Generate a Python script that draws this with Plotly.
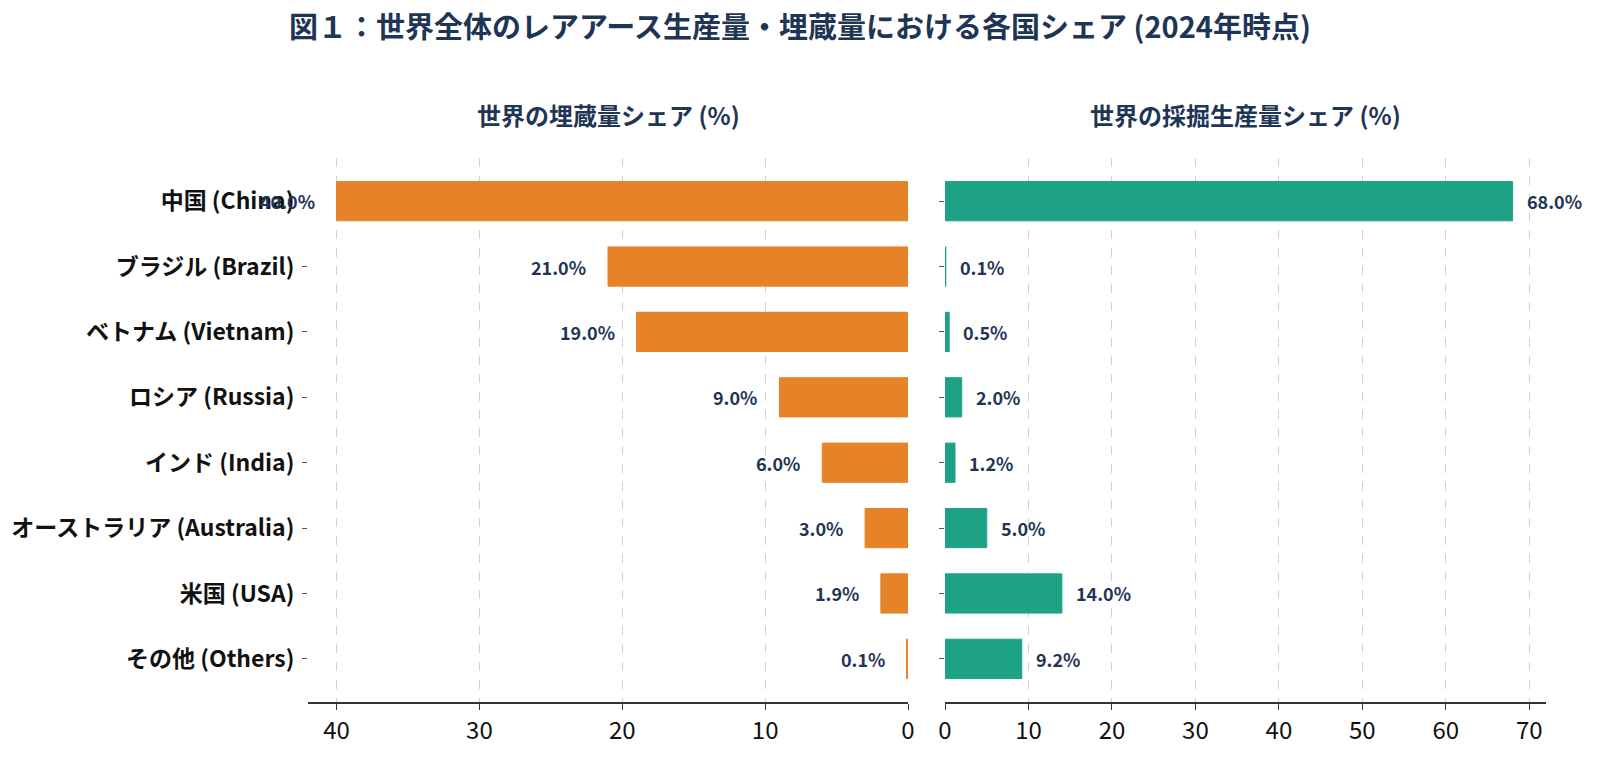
import plotly.graph_objects as go

countries = ["中国 (China)", "ブラジル (Brazil)", "ベトナム (Vietnam)", "ロシア (Russia)",
             "インド (India)", "オーストラリア (Australia)", "米国 (USA)", "その他 (Others)"]
reserves = [40.0, 21.0, 19.0, 9.0, 6.0, 3.0, 1.9, 0.1]
production = [68.0, 0.1, 0.5, 2.0, 1.2, 5.0, 14.0, 9.2]

title = "図１：世界全体のレアアース生産量・埋蔵量における各国シェア (2024年時点)"
left_title = "世界の埋蔵量シェア (%)"
right_title = "世界の採掘生産量シェア (%)"

FONT = "Noto Sans CJK JP"
NAVY = "#1f3556"
ORANGE = "#E67E22"
TEAL = "#16A085"

fig = go.Figure()
fig.add_trace(go.Bar(y=countries, x=reserves, orientation="h", xaxis="x", yaxis="y",
                     marker=dict(color=ORANGE, line=dict(color=ORANGE, width=1)),
                     opacity=0.97, width=0.6, showlegend=False, hoverinfo="x+y"))
fig.add_trace(go.Bar(y=countries, x=production, orientation="h", xaxis="x2", yaxis="y2",
                     marker=dict(color=TEAL, line=dict(color=TEAL, width=1)),
                     opacity=0.97, width=0.6, showlegend=False, hoverinfo="x+y"))

H = 757 - 158 - 55
ann = []
for c, v in zip(countries, reserves):
    ann.append(dict(x=v, y=c, xref="x", yref="y", text=f"{v:.1f}%", showarrow=False,
                    xanchor="right", xshift=-20,
                    font=dict(family=FONT, size=18, color=NAVY, weight="bold")))
for c, v in zip(countries, production):
    ann.append(dict(x=v, y=c, xref="x2", yref="y2", text=f"{v:.1f}%", showarrow=False,
                    xanchor="left", xshift=12,
                    font=dict(family=FONT, size=18, color=NAVY, weight="bold")))
for xc, txt in [(0.5 * (600 / 1238), left_title), ((637 + 1238) / 2 / 1238, right_title)]:
    ann.append(dict(x=xc, y=1 + (158 - 115) / H, xref="paper", yref="paper", text=txt,
                    xanchor="center", yanchor="middle", showarrow=False,
                    font=dict(family=FONT, size=24, color=NAVY, weight="bold")))

common_x = dict(showgrid=True, gridcolor="#d0d0d0", griddash="dash", gridwidth=1,
                zeroline=False, showline=True, linecolor="#333333", linewidth=1.5,
                ticks="outside", ticklen=6, tickcolor="#333333", dtick=10,
                tickfont=dict(family=FONT, size=24, color="#111111"))

fig.update_layout(
    width=1600, height=757,
    margin=dict(l=308, r=54, t=158, b=55),
    paper_bgcolor="white", plot_bgcolor="white",
    title=dict(text=f"<b>{title}</b>", x=0.5, xref="container", xanchor="center",
               y=1 - 28 / 757, yanchor="middle",
               font=dict(family=FONT, size=29, color=NAVY)),
    bargap=0.4,
    xaxis=dict(domain=[0, 600 / 1238], range=[42, 0], **common_x),
    xaxis2=dict(domain=[637 / 1238, 1], range=[0, 72], **common_x),
    yaxis=dict(anchor="x", categoryorder="array", categoryarray=countries,
               autorange=False, range=[7.66, -0.66], showgrid=False, zeroline=False,
               showline=False, ticks="outside", ticklen=5, tickcolor="#555555",
               ticklabelstandoff=3,
               tickfont=dict(family=FONT, size=23, color="#111111", weight="bold")),
    yaxis2=dict(anchor="x2", categoryorder="array", categoryarray=countries,
                autorange=False, range=[7.66, -0.66], showgrid=False, zeroline=False,
                showline=False, ticks="outside", ticklen=5, tickcolor="#555555",
                showticklabels=False),
    annotations=ann,
    font=dict(family=FONT),
)

fig.write_html("out.html")
